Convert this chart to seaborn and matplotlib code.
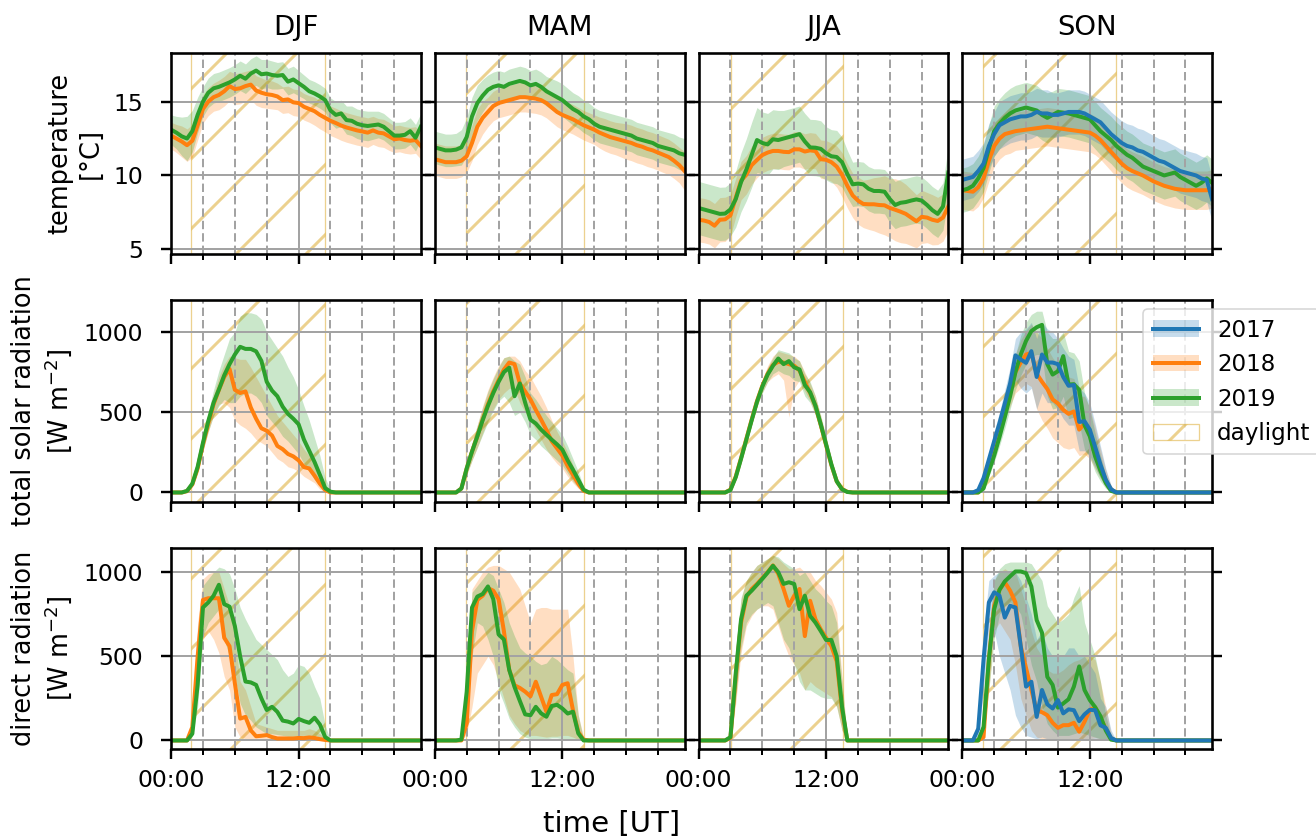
import numpy as np
import pandas as pd
import matplotlib
matplotlib.use("Agg")
import matplotlib.pyplot as plt
import seaborn as sns
from matplotlib.patches import Patch
from matplotlib.lines import Line2D
from matplotlib.ticker import FixedLocator, MultipleLocator, FuncFormatter

DPI = 210
def px(v):
    return v * 72.0 / DPI

# ---------------- data ----------------
HOURS = np.arange(48) * 0.5          # 30-min time-of-day grid [h UT]
SEASONS = ["DJF", "MAM", "JJA", "SON"]
YEARS = ["2017", "2018", "2019"]
COLORS = {"2017": "#1f77b4", "2018": "#ff7f0e", "2019": "#2ca02c"}
DAY_START = [1.9, 2.92, 3.02, 1.92]
DAY_END = [14.46, 14.06, 13.56, 14.46]
ROW_LABELS = ["temperature\n[°C]", "total solar radiation\n[W m$^{-2}$]", "direct radiation\n[W m$^{-2}$]"]
YTICKS = [[5, 10, 15], [0, 500, 1000], [0, 500, 1000]]
YLIMS = [(4.66, 18.3), (-58, 1198), (-52, 1145)]

# temperature: mean and spread
T_DJF_2018 = [12.7, 12.5, 12.3, 12.05, 12.35, 13.4, 14.5, 15.0, 15.3, 15.45, 15.7, 16.05, 15.85, 15.9, 16.05, 16.15,
              15.75, 15.6, 15.5, 15.45, 15.35, 15.1, 15.15, 14.95, 14.9, 14.65, 14.5, 14.35, 14.1, 13.9, 13.7, 13.55,
              13.38, 13.25, 13.15, 13.05, 12.98, 12.9, 13.05, 12.9, 12.85, 12.65, 12.45, 12.5, 12.4, 12.35, 12.4, 12.0]
T_DJF_2018_SD = [0.9, 0.95, 1.05, 1.1, 1.1, 1.0, 0.95, 0.95, 0.95, 1.0, 1.0, 1.0, 1.05, 1.05, 1.0, 1.0,
                 1.0, 1.0, 0.95, 0.95, 0.9, 0.9, 0.9, 0.9, 0.9, 0.9, 0.9, 0.95, 0.95, 0.95, 1.0, 1.0,
                 1.0, 1.0, 1.0, 1.0, 1.0, 1.0, 0.95, 0.95, 0.95, 0.95, 0.9, 0.9, 0.9, 0.9, 0.9, 0.9]
T_DJF_2019 = [13.1, 12.9, 12.65, 12.5, 13.0, 14.1, 15.0, 15.6, 15.9, 16.0, 16.15, 16.3, 16.5, 16.75, 16.55, 16.9,
              17.1, 16.85, 16.9, 16.8, 16.75, 16.8, 16.35, 16.5, 16.25, 16.0, 15.7, 15.55, 15.35, 15.1, 14.4, 14.1,
              14.2, 13.75, 13.7, 13.5, 13.4, 13.35, 13.4, 13.45, 13.3, 13.0, 12.7, 12.7, 12.75, 13.0, 12.55, 13.3]
T_DJF_2019_SD = [1.0, 1.1, 1.3, 1.5, 1.4, 1.2, 1.0, 1.0, 1.0, 1.0, 1.0, 1.0, 1.0, 1.0, 1.0, 1.0,
                 1.0, 1.0, 0.95, 0.95, 0.9, 0.9, 0.9, 0.9, 0.85, 0.8, 0.8, 0.8, 0.8, 0.8, 0.85, 0.9,
                 0.9, 0.95, 1.0, 1.0, 1.0, 1.0, 0.95, 0.9, 0.9, 0.9, 0.9, 0.9, 0.9, 0.9, 0.9, 0.9]
T_MAM_2018 = [11.1, 11.0, 10.9, 10.9, 10.9, 11.0, 11.3, 12.2, 13.3, 13.9, 14.3, 14.7, 14.9, 15.0, 15.1, 15.2,
              15.3, 15.3, 15.25, 15.2, 15.1, 14.9, 14.6, 14.3, 14.1, 13.95, 13.8, 13.6, 13.4, 13.25, 13.1, 12.9,
              12.75, 12.6, 12.5, 12.4, 12.3, 12.2, 12.05, 11.95, 11.8, 11.7, 11.55, 11.4, 11.25, 11.0, 10.7, 10.3]
T_MAM_2018_SD = [1.1, 1.1, 1.1, 1.1, 1.1, 1.1, 1.1, 1.2, 1.2, 1.1, 1.0, 1.0, 1.0, 1.0, 1.0, 1.0,
                 1.0, 1.0, 1.0, 1.0, 1.0, 1.0, 1.0, 1.0, 1.0, 1.0, 1.0, 1.0, 1.0, 1.0, 1.0, 1.05,
                 1.1, 1.1, 1.1, 1.15, 1.2, 1.2, 1.2, 1.2, 1.2, 1.2, 1.2, 1.2, 1.2, 1.2, 1.2, 1.3]
T_MAM_2019 = [11.9, 11.8, 11.7, 11.7, 11.75, 11.9, 12.6, 14.0, 14.9, 15.4, 15.8, 16.0, 16.1, 16.0, 16.2, 16.3,
              16.4, 16.3, 16.1, 16.2, 16.0, 15.7, 15.5, 15.3, 15.1, 14.8, 14.5, 14.3, 14.0, 13.8, 13.5, 13.3,
              13.2, 13.1, 13.0, 12.9, 12.8, 12.7, 12.5, 12.4, 12.3, 12.2, 12.0, 11.9, 11.8, 11.7, 11.5, 11.4]
T_MAM_2019_SD = [1.1, 1.1, 1.1, 1.1, 1.1, 1.2, 1.3, 1.3, 1.2, 1.1, 1.0, 1.0, 1.0, 1.0, 1.0, 1.0,
                 1.0, 1.0, 1.0, 1.0, 1.0, 1.0, 1.05, 1.1, 1.1, 1.1, 1.1, 1.1, 1.1, 1.1, 1.1, 1.1,
                 1.1, 1.1, 1.1, 1.1, 1.1, 1.1, 1.1, 1.1, 1.1, 1.1, 1.1, 1.1, 1.1, 1.1, 1.1, 1.1]
T_JJA_2018 = [7.0, 6.95, 6.85, 6.6, 7.0, 7.03, 7.3, 8.5, 9.65, 10.05, 10.7, 11.05, 11.38, 11.55, 11.66, 11.66,
              11.6, 11.58, 11.77, 11.77, 11.62, 11.7, 11.65, 11.1, 11.06, 10.9, 10.6, 10.05, 9.3, 8.65, 8.3, 8.07,
              8.05, 8.05, 8.0, 7.98, 7.8, 7.68, 7.55, 7.4, 7.15, 6.9, 7.2, 7.15, 7.0, 6.92, 7.15, 7.9]
T_JJA_2018_SD = [1.5, 1.5, 1.5, 1.5, 1.5, 1.5, 1.4, 1.3, 1.3, 1.3, 1.3, 1.2, 1.2, 1.2, 1.2, 1.2,
                 1.2, 1.2, 1.2, 1.2, 1.2, 1.2, 1.2, 1.3, 1.3, 1.3, 1.4, 1.5, 1.5, 1.5, 1.6, 1.6,
                 1.7, 1.8, 1.9, 2.0, 2.0, 2.1, 2.1, 2.0, 1.9, 1.8, 1.8, 1.7, 1.7, 1.6, 1.6, 1.6]
T_JJA_2019 = [7.8, 7.7, 7.6, 7.5, 7.4, 7.42, 7.7, 8.4, 9.55, 10.4, 11.4, 12.4, 12.2, 12.1, 12.45, 12.4,
              12.5, 12.6, 12.7, 12.8, 12.3, 11.9, 11.88, 11.8, 11.5, 11.3, 11.25, 10.9, 10.1, 9.4, 9.45, 9.4,
              9.1, 8.95, 8.95, 8.9, 8.4, 8.0, 8.15, 8.2, 8.3, 8.38, 8.3, 8.0, 7.65, 7.4, 7.9, 10.2]
T_JJA_2019_SD = [1.8, 1.8, 1.8, 1.8, 1.8, 1.8, 1.8, 1.9, 2.0, 2.1, 2.2, 2.2, 2.1, 2.1, 2.0, 2.0,
                 1.9, 1.9, 1.9, 1.9, 1.9, 1.9, 1.9, 1.9, 1.8, 1.8, 1.8, 1.7, 1.6, 1.5, 1.5, 1.5,
                 1.5, 1.5, 1.5, 1.5, 1.6, 1.6, 1.6, 1.6, 1.6, 1.6, 1.6, 1.6, 1.6, 1.6, 1.6, 1.8]
T_SON_2017 = [9.7, 9.8, 9.9, 10.3, 10.8, 12.0, 12.8, 13.4, 13.6, 13.8, 13.9, 14.0, 14.0, 14.1, 14.3, 14.2,
              14.2, 14.1, 14.1, 14.2, 14.3, 14.3, 14.3, 14.2, 14.0, 13.8, 13.6, 13.2, 12.8, 12.5, 12.2, 12.0,
              11.9, 11.7, 11.6, 11.4, 11.2, 11.0, 10.9, 10.7, 10.5, 10.3, 10.2, 10.1, 10.0, 9.8, 9.7, 8.4]
T_SON_2017_SD = [1.4, 1.4, 1.4, 1.4, 1.4, 1.5, 1.5, 1.6, 1.6, 1.6, 1.6, 1.6, 1.6, 1.6, 1.6, 1.6,
                 1.6, 1.5, 1.5, 1.5, 1.5, 1.5, 1.5, 1.5, 1.5, 1.5, 1.5, 1.5, 1.5, 1.5, 1.5, 1.5,
                 1.5, 1.5, 1.5, 1.5, 1.5, 1.5, 1.5, 1.5, 1.5, 1.5, 1.5, 1.5, 1.5, 1.5, 1.5, 1.5]
T_SON_2018 = [9.0, 8.95, 8.9, 9.2, 9.8, 11.0, 12.0, 12.5, 12.8, 12.9, 13.0, 13.05, 13.1, 13.15, 13.2, 13.25,
              13.3, 13.25, 13.2, 13.15, 13.1, 13.05, 13.0, 12.95, 12.9, 12.7, 12.4, 12.0, 11.6, 11.2, 10.8, 10.5,
              10.3, 10.15, 10.0, 9.8, 9.6, 9.45, 9.3, 9.2, 9.1, 9.05, 9.0, 9.0, 9.0, 9.0, 9.0, 9.1]
T_SON_2018_SD = [1.3, 1.3, 1.3, 1.3, 1.3, 1.4, 1.4, 1.4, 1.4, 1.4, 1.3, 1.3, 1.3, 1.3, 1.3, 1.3,
                 1.3, 1.3, 1.3, 1.3, 1.3, 1.3, 1.3, 1.3, 1.3, 1.3, 1.3, 1.3, 1.3, 1.3, 1.3, 1.3,
                 1.3, 1.3, 1.3, 1.3, 1.3, 1.3, 1.3, 1.3, 1.3, 1.3, 1.3, 1.3, 1.3, 1.3, 1.3, 1.3]
T_SON_2019 = [9.0, 9.1, 9.3, 9.8, 10.5, 11.8, 13.0, 13.5, 13.9, 14.2, 14.4, 14.5, 14.6, 14.5, 14.4, 14.1,
              13.9, 14.1, 14.3, 14.25, 14.2, 14.1, 14.0, 13.9, 13.8, 13.4, 13.0, 12.7, 12.4, 12.0, 11.7, 11.4,
              11.2, 10.9, 10.6, 10.45, 10.3, 10.15, 10.0, 10.1, 10.2, 9.9, 9.7, 9.5, 9.3, 9.5, 9.8, 9.5]
T_SON_2019_SD = [1.5, 1.5, 1.5, 1.5, 1.6, 1.6, 1.7, 1.7, 1.7, 1.7, 1.7, 1.7, 1.7, 1.7, 1.7, 1.7,
                 1.7, 1.6, 1.6, 1.6, 1.6, 1.6, 1.6, 1.6, 1.6, 1.6, 1.6, 1.6, 1.6, 1.6, 1.6, 1.6,
                 1.6, 1.6, 1.6, 1.6, 1.6, 1.6, 1.6, 1.6, 1.6, 1.6, 1.6, 1.6, 1.6, 1.6, 1.6, 1.6]

Z16 = [0, 0, 0, 0, 0, 0, 0, 0, 0, 0, 0, 0, 0, 0, 0, 0]   # night-time zeros 16:00-23:30

# total solar radiation: centre, low, high
S_DJF_2018 = [0, 0, 0, 8, 50, 150, 300, 430, 550, 640, 720, 770, 640, 620, 630, 530,
              460, 400, 385, 355, 290, 270, 240, 225, 200, 158, 150, 105, 55, 15, 0, 0] + Z16
S_DJF_2018_LO = [0, 0, 0, 5, 40, 120, 260, 380, 480, 550, 560, 530, 450, 420, 400, 370,
                 330, 310, 290, 250, 210, 190, 160, 150, 130, 100, 80, 60, 20, 5, 0, 0] + Z16
S_DJF_2018_HI = [0, 0, 0, 12, 60, 180, 340, 480, 610, 720, 800, 850, 840, 830, 830, 780,
                 720, 660, 600, 540, 480, 440, 400, 360, 320, 270, 230, 180, 120, 50, 0, 0] + Z16
S_DJF_2019 = [0, 0, 0, 10, 55, 160, 310, 445, 560, 642, 730, 800, 860, 908, 895, 895,
              880, 820, 690, 635, 600, 535, 490, 460, 425, 330, 260, 190, 110, 27, 5, 0] + Z16
S_DJF_2019_LO = [0, 0, 0, 5, 45, 130, 260, 380, 480, 540, 580, 560, 560, 600, 620, 620,
                 600, 560, 480, 440, 400, 350, 320, 280, 240, 180, 130, 80, 40, 8, 0, 0] + Z16
S_DJF_2019_HI = [0, 0, 0, 15, 70, 190, 360, 500, 640, 760, 860, 960, 1000, 1100, 1120, 1120,
                 1110, 1080, 1000, 950, 900, 850, 780, 720, 640, 540, 450, 340, 230, 90, 20, 0] + Z16
S_MAM_2018 = [0, 0, 0, 0, 0, 25, 150, 255, 350, 455, 550, 630, 700, 766, 810, 800,
              680, 630, 580, 515, 454, 390, 320, 275, 230, 165, 110, 55, 10, 0, 0, 0] + Z16
S_MAM_2018_LO = [0, 0, 0, 0, 0, 15, 110, 200, 280, 370, 450, 520, 580, 620, 650, 640,
                 560, 500, 450, 390, 330, 270, 220, 180, 150, 100, 60, 25, 3, 0, 0, 0] + Z16
S_MAM_2018_HI = [0, 0, 0, 0, 0, 35, 190, 310, 420, 540, 640, 720, 790, 840, 850, 850,
                 820, 760, 720, 660, 600, 530, 450, 380, 320, 250, 170, 90, 25, 0, 0, 0] + Z16
S_MAM_2019 = [0, 0, 0, 0, 0, 25, 150, 255, 350, 450, 540, 620, 690, 750, 778, 600,
              680, 560, 454, 430, 392, 360, 329, 300, 267, 200, 142, 80, 17, 0, 0, 0] + Z16
S_MAM_2019_LO = [0, 0, 0, 0, 0, 15, 110, 200, 280, 360, 440, 510, 570, 600, 560, 480,
                 500, 440, 360, 330, 290, 260, 230, 200, 170, 120, 70, 30, 5, 0, 0, 0] + Z16
S_MAM_2019_HI = [0, 0, 0, 0, 0, 35, 190, 310, 420, 530, 630, 710, 780, 840, 850, 820,
                 800, 720, 620, 580, 530, 480, 440, 400, 360, 290, 210, 130, 35, 0, 0, 0] + Z16
S_JJA_2018 = [0, 0, 0, 0, 0, 0, 18, 100, 215, 335, 455, 570, 665, 740, 795, 815,
              810, 800, 790, 760, 690, 620, 540, 420, 295, 170, 70, 22, 4, 0, 0, 0] + Z16
S_JJA_2018_LO = [0, 0, 0, 0, 0, 0, 12, 85, 195, 315, 430, 540, 625, 690, 720, 740,
                 700, 470, 650, 700, 630, 570, 490, 370, 250, 140, 50, 14, 2, 0, 0, 0] + Z16
S_JJA_2018_HI = [0, 0, 0, 0, 0, 0, 24, 115, 235, 355, 480, 600, 705, 790, 850, 880,
                 870, 860, 850, 820, 750, 680, 600, 470, 340, 200, 90, 30, 6, 0, 0, 0] + Z16
S_JJA_2019 = [0, 0, 0, 0, 0, 0, 15, 95, 210, 330, 450, 565, 660, 735, 790, 835,
              800, 819, 780, 767, 670, 625, 540, 425, 300, 175, 70, 20, 3, 0, 0, 0] + Z16
S_JJA_2019_LO = [0, 0, 0, 0, 0, 0, 10, 80, 190, 310, 425, 535, 620, 690, 740, 760,
                 740, 730, 700, 690, 600, 560, 480, 370, 250, 140, 50, 12, 1, 0, 0, 0] + Z16
S_JJA_2019_HI = [0, 0, 0, 0, 0, 0, 20, 110, 230, 350, 475, 595, 700, 780, 840, 890,
                 880, 870, 840, 820, 740, 690, 600, 480, 350, 210, 95, 30, 6, 0, 0, 0] + Z16
S_SON_2017 = [0, 0, 0, 15, 90, 205, 320, 433, 555, 680, 855, 829, 808, 881, 720, 860,
              810, 810, 800, 720, 665, 670, 440, 444, 392, 285, 175, 80, 20, 0, 0, 0] + Z16
S_SON_2017_LO = [0, 0, 0, 8, 70, 170, 260, 370, 470, 580, 700, 650, 620, 650, 520, 620,
                 560, 560, 520, 460, 420, 420, 260, 260, 230, 160, 90, 35, 5, 0, 0, 0] + Z16
S_SON_2017_HI = [0, 0, 0, 25, 110, 240, 380, 500, 640, 780, 960, 1000, 1020, 1060, 960, 1060,
                 1020, 1000, 960, 900, 850, 830, 650, 620, 560, 430, 290, 150, 45, 0, 0, 0] + Z16
S_SON_2018 = [0, 0, 0, 0, 60, 170, 290, 410, 530, 640, 750, 810, 860, 870, 740, 690,
              645, 580, 555, 515, 490, 505, 392, 430, 370, 270, 165, 75, 18, 0, 0, 0] + Z16
S_SON_2018_LO = [0, 0, 0, 0, 45, 140, 240, 350, 450, 540, 620, 650, 680, 660, 520, 450,
                 400, 340, 310, 280, 270, 280, 230, 240, 210, 150, 90, 35, 5, 0, 0, 0] + Z16
S_SON_2018_HI = [0, 0, 0, 0, 80, 200, 340, 470, 610, 740, 860, 950, 1010, 1050, 1000, 960,
                 900, 840, 800, 760, 720, 710, 600, 600, 530, 410, 270, 140, 40, 0, 0, 0] + Z16
S_SON_2019 = [0, 0, 0, 0, 25, 131, 230, 345, 470, 600, 750, 860, 945, 1006, 1030, 1045,
              800, 735, 756, 850, 673, 675, 640, 420, 350, 225, 135, 60, 10, 0, 0, 0] + Z16
S_SON_2019_LO = [0, 0, 0, 0, 15, 100, 190, 290, 400, 520, 640, 730, 800, 850, 860, 860,
                 600, 520, 530, 600, 460, 470, 430, 270, 220, 130, 70, 25, 3, 0, 0, 0] + Z16
S_SON_2019_HI = [0, 0, 0, 0, 40, 165, 280, 400, 540, 680, 860, 980, 1060, 1110, 1130, 1130,
                 1000, 960, 960, 1000, 880, 870, 820, 620, 520, 370, 230, 110, 25, 0, 0, 0] + Z16

# direct radiation: centre, low, high
D_DJF_2018 = [0, 0, 0, 0, 80, 500, 835, 845, 845, 845, 610, 560, 340, 130, 140, 60,
              25, 28, 32, 20, 12, 12, 12, 12, 15, 14, 18, 15, 8, 3, 0, 0] + Z16
D_DJF_2018_LO = [0, 0, 0, 0, 50, 300, 600, 650, 600, 520, 380, 300, 80, 20, 10, 5,
                 0, 0, 0, 0, 0, 0, 0, 0, 0, 0, 0, 0, 0, 0, 0, 0] + Z16
D_DJF_2018_HI = [0, 0, 0, 0, 120, 700, 960, 990, 1000, 1000, 900, 800, 600, 350, 300, 200,
                 100, 90, 80, 70, 60, 60, 60, 60, 60, 60, 70, 60, 40, 15, 0, 0] + Z16
D_DJF_2019 = [0, 0, 0, 0, 40, 330, 790, 820, 860, 925, 810, 795, 680, 500, 350, 345,
              330, 250, 181, 200, 170, 118, 112, 101, 128, 115, 105, 135, 95, 20, 0, 0] + Z16
D_DJF_2019_LO = [0, 0, 0, 0, 25, 200, 620, 700, 740, 780, 600, 500, 380, 220, 150, 120,
                 80, 60, 40, 40, 35, 30, 25, 25, 30, 30, 30, 30, 20, 5, 0, 0] + Z16
D_DJF_2019_HI = [0, 0, 0, 0, 60, 500, 920, 960, 1000, 1030, 1020, 990, 900, 790, 720, 660,
                 600, 570, 540, 510, 480, 420, 380, 400, 450, 440, 400, 320, 250, 90, 0, 0] + Z16
D_MAM_2018 = [0, 0, 0, 0, 0, 0, 100, 650, 835, 860, 905, 890, 840, 650, 420, 328,
              312, 290, 262, 349, 260, 171, 270, 275, 330, 340, 180, 50, 5, 0, 0, 0] + Z16
D_MAM_2018_LO = [0, 0, 0, 0, 0, 0, 40, 200, 400, 450, 500, 450, 350, 250, 150, 100,
                 60, 40, 30, 30, 25, 20, 25, 25, 30, 30, 20, 5, 0, 0, 0, 0] + Z16
D_MAM_2018_HI = [0, 0, 0, 0, 0, 0, 200, 900, 950, 1000, 1030, 1040, 1040, 1020, 1000, 950,
                 900, 800, 700, 780, 790, 790, 780, 780, 780, 780, 500, 150, 20, 0, 0, 0] + Z16
D_MAM_2019 = [0, 0, 0, 0, 0, 5, 290, 790, 855, 870, 915, 840, 630, 600, 420, 318,
              235, 155, 150, 200, 161, 141, 205, 212, 190, 160, 171, 42, 0, 0, 0, 0] + Z16
D_MAM_2019_LO = [0, 0, 0, 0, 0, 2, 150, 500, 700, 680, 600, 500, 300, 220, 130, 80,
                 40, 20, 10, 10, 10, 10, 15, 15, 10, 10, 10, 5, 0, 0, 0, 0] + Z16
D_MAM_2019_HI = [0, 0, 0, 0, 0, 10, 450, 880, 920, 960, 1000, 980, 900, 820, 700, 620,
                 550, 520, 500, 470, 450, 460, 500, 480, 450, 420, 400, 150, 5, 0, 0, 0] + Z16
D_JJA_2018 = [0, 0, 0, 0, 0, 0, 15, 380, 700, 850, 900, 930, 965, 1000, 1040, 990,
              900, 800, 860, 900, 620, 830, 720, 660, 610, 560, 470, 180, 0, 0, 0, 0] + Z16
D_JJA_2018_LO = [0, 0, 0, 0, 0, 0, 5, 220, 520, 680, 740, 780, 800, 800, 780, 680,
                 580, 500, 450, 400, 300, 350, 320, 300, 280, 260, 200, 60, 0, 0, 0, 0] + Z16
D_JJA_2018_HI = [0, 0, 0, 0, 0, 0, 35, 520, 840, 950, 1000, 1040, 1060, 1080, 1100, 1080,
                 1050, 1020, 1020, 1030, 1000, 1000, 950, 920, 880, 840, 760, 380, 0, 0, 0, 0] + Z16
D_JJA_2019 = [0, 0, 0, 0, 0, 0, 20, 400, 720, 860, 890, 925, 960, 997, 1038, 1000,
              930, 940, 930, 780, 860, 740, 700, 650, 597, 597, 500, 200, 0, 0, 0, 0] + Z16
D_JJA_2019_LO = [0, 0, 0, 0, 0, 0, 5, 250, 550, 700, 750, 780, 800, 820, 800, 700,
                 600, 550, 450, 350, 300, 300, 280, 260, 250, 250, 200, 60, 0, 0, 0, 0] + Z16
D_JJA_2019_HI = [0, 0, 0, 0, 0, 0, 40, 550, 850, 950, 1000, 1040, 1060, 1080, 1100, 1090,
                 1060, 1040, 1020, 980, 1000, 950, 900, 870, 830, 800, 700, 350, 0, 0, 0, 0] + Z16
D_SON_2017 = [0, 0, 0, 70, 480, 820, 880, 860, 730, 800, 790, 560, 320, 349, 140, 300,
              215, 190, 240, 161, 185, 180, 115, 155, 182, 180, 90, 75, 15, 0, 0, 0] + Z16
D_SON_2017_LO = [0, 0, 0, 30, 300, 650, 650, 500, 400, 300, 150, 80, 30, 20, 10, 20,
                 10, 10, 10, 10, 10, 10, 5, 5, 10, 10, 5, 5, 0, 0, 0, 0] + Z16
D_SON_2017_HI = [0, 0, 0, 120, 650, 950, 980, 1000, 1000, 1000, 1000, 950, 850, 750, 600, 650,
                 550, 500, 500, 500, 550, 550, 500, 500, 450, 400, 250, 200, 60, 0, 0, 0] + Z16
D_SON_2018 = [0, 0, 0, 0, 20, 480, 800, 895, 940, 890, 820, 560, 430, 300, 178, 168,
              150, 105, 75, 91, 91, 105, 52, 111, 181, 198, 135, 70, 10, 0, 0, 0] + Z16
D_SON_2018_LO = [0, 0, 0, 0, 10, 300, 650, 700, 650, 600, 450, 250, 150, 60, 20, 10,
                 5, 5, 5, 5, 5, 5, 5, 5, 10, 15, 10, 5, 0, 0, 0, 0] + Z16
D_SON_2018_HI = [0, 0, 0, 0, 40, 650, 950, 1000, 1020, 1000, 1000, 900, 800, 650, 550, 500,
                 420, 400, 400, 420, 450, 470, 480, 500, 500, 480, 350, 200, 40, 0, 0, 0] + Z16
D_SON_2019 = [0, 0, 0, 0, 80, 480, 780, 895, 945, 975, 1004, 1004, 994, 915, 715, 640,
              378, 330, 195, 220, 245, 320, 440, 300, 240, 198, 145, 60, 5, 0, 0, 0] + Z16
D_SON_2019_LO = [0, 0, 0, 0, 40, 300, 600, 750, 800, 820, 800, 750, 600, 450, 350, 200,
                 100, 60, 30, 30, 30, 40, 50, 40, 30, 20, 10, 5, 0, 0, 0, 0] + Z16
D_SON_2019_HI = [0, 0, 0, 0, 150, 650, 950, 1020, 1050, 1060, 1060, 1060, 1060, 1050, 1000, 950,
                 800, 750, 700, 720, 750, 850, 920, 700, 600, 500, 350, 150, 20, 0, 0, 0] + Z16

G = globals()
SERIES = {
    "DJF": ["2018", "2019"], "MAM": ["2018", "2019"],
    "JJA": ["2018", "2019"], "SON": ["2017", "2018", "2019"],
}

# ------- long-form table: low / centre / high per time step (median + full range) -------
records = []
for s in SEASONS:
    for y in SERIES[s]:
        m = np.array(G[f"T_{s}_{y}"]); sd = np.array(G[f"T_{s}_{y}_SD"])
        for h, a, b, c in zip(HOURS, m - sd, m, m + sd):
            records += [("T", s, y, h, a), ("T", s, y, h, b), ("T", s, y, h, c)]
        for v in ("S", "D"):
            lo = G[f"{v}_{s}_{y}_LO"]; mid = G[f"{v}_{s}_{y}"]; hi = G[f"{v}_{s}_{y}_HI"]
            for h, a, b, c in zip(HOURS, lo, mid, hi):
                records += [(v, s, y, h, a), (v, s, y, h, b), (v, s, y, h, c)]
df = pd.DataFrame(records, columns=["var", "season", "year", "hour", "value"])

# ---------------- figure ----------------
plt.rcParams["hatch.linewidth"] = px(3.0)
plt.rcParams["font.family"] = ["DejaVu Sans"]
DAY_COLOR = (0.855, 0.647, 0.125, 0.5)
GRID_COLOR = "#a3a3a3"
LW = px(4.0)

fig, axes = plt.subplots(3, 4, figsize=(1316 / DPI, 839 / DPI), dpi=DPI, sharex=True, sharey="row")
fig.subplots_adjust(left=0.130, right=0.921, top=0.937, bottom=0.107, wspace=0.056, hspace=0.228)

VARS = ["T", "S", "D"]
for r, var in enumerate(VARS):
    for c, s in enumerate(SEASONS):
        ax = axes[r, c]
        ax.set_axisbelow("line")
        ax.axvspan(DAY_START[c], DAY_END[c], facecolor="none", edgecolor=DAY_COLOR,
                   hatch="/", lw=px(1.3), zorder=0.8)
        sub = df[(df["var"] == var) & (df["season"] == s)]
        order = [y for y in ["2018", "2019", "2017"] if y in SERIES[s]]
        sns.lineplot(data=sub, x="hour", y="value", hue="year", hue_order=order, palette=COLORS,
                     estimator="median", errorbar=("pi", 100), ax=ax, legend=False,
                     lw=LW, err_kws={"alpha": 0.25, "linewidth": 0})
        ax.set_xlim(0, 23.5)
        ax.set_ylim(*YLIMS[r])
        ax.set_yticks(YTICKS[r])
        ax.xaxis.set_major_locator(FixedLocator([0, 12]))
        ax.xaxis.set_minor_locator(MultipleLocator(3))
        ax.xaxis.set_major_formatter(FuncFormatter(lambda v, p: f"{int(round(v)):02d}:00"))
        ax.grid(True, which="major", color=GRID_COLOR, lw=px(2.0))
        ax.grid(True, which="minor", axis="x", color=GRID_COLOR, lw=px(2.0), ls=(0, (4.2, 2.0)))
        ax.tick_params(axis="both", which="major", length=px(10), width=px(2.4),
                       labelsize=px(23.5), direction="out")
        ax.tick_params(axis="x", which="minor", length=px(5.5), width=px(2.0))
        ax.tick_params(axis="x", pad=px(10))
        ax.tick_params(axis="y", left=True, right=True, pad=px(18))
        for sp in ax.spines.values():
            sp.set_linewidth(px(2.6))
        ax.set_xlabel("")
        ax.set_ylabel("")
        if r == 0:
            ax.set_title(s, fontsize=px(27.5), pad=px(17.5))
    axes[r, 0].set_ylabel(ROW_LABELS[r], fontsize=px(25.7), labelpad=px(10))

handles = [(Patch(facecolor=COLORS[y], alpha=0.25, edgecolor="none"),
            Line2D([], [], color=COLORS[y], lw=LW)) for y in YEARS]
handles.append(Patch(facecolor="none", edgecolor=DAY_COLOR, hatch="/", lw=px(1.3)))
leg = axes[1, 3].legend(handles, YEARS + ["daylight"], loc="upper left",
                        bbox_to_anchor=(0.725, 0.955), borderaxespad=0, fontsize=px(23.0),
                        framealpha=0.8)
leg.get_frame().set_linewidth(px(1.6))

fig.text(612 / 1316, 1 - 824 / 839, "time [UT]", ha="center", va="center", fontsize=px(29.3))

fig.savefig("out.png", dpi=DPI)
